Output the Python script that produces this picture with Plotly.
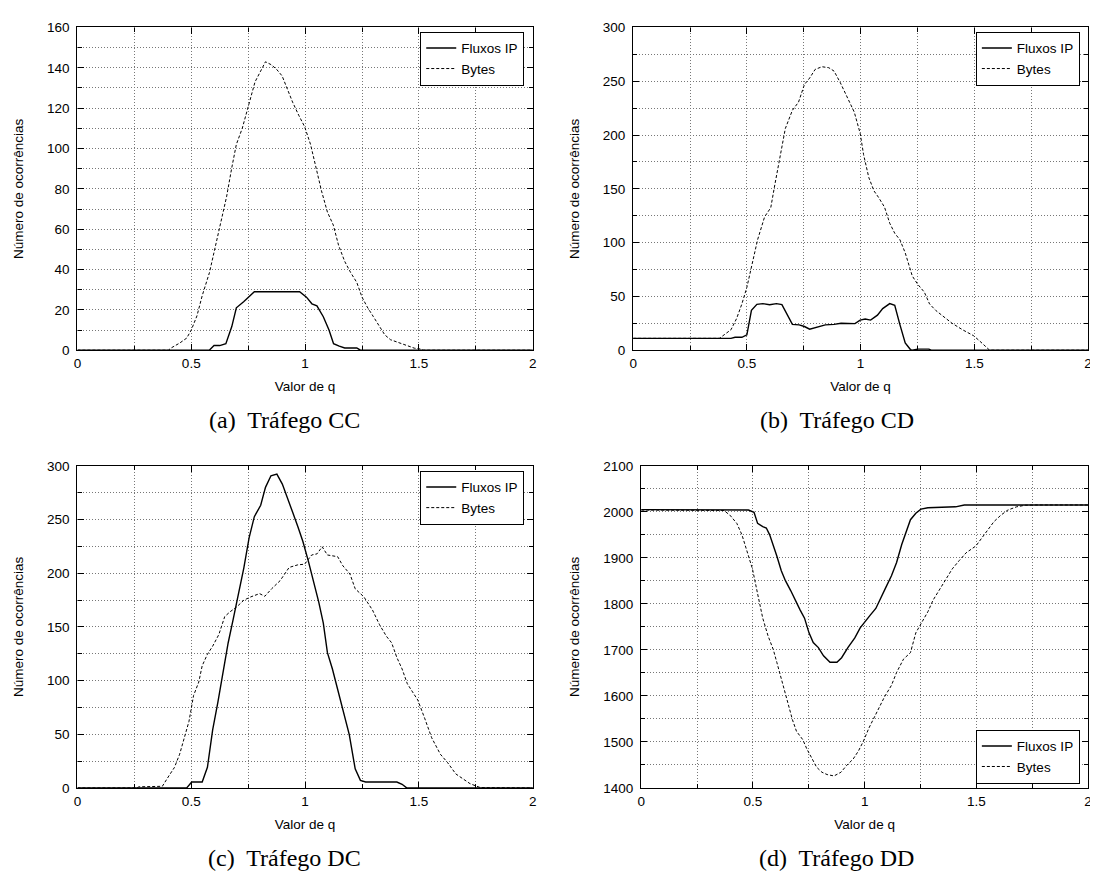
import plotly.graph_objects as go

# ---------------- data ----------------
# (a) Tráfego CC
a_bytes_x = [0, 0.40, 0.41, 0.45, 0.48, 0.50, 0.525, 0.548, 0.58, 0.605, 0.632, 0.655, 0.678, 0.698, 0.724, 0.754, 0.78, 0.803, 0.826, 0.85, 0.873, 0.899, 0.922, 0.945, 0.972, 0.998, 1.024, 1.047, 1.072, 1.098, 1.124, 1.147, 1.174, 1.2, 1.227, 1.25, 1.273, 1.3, 1.327, 1.35, 1.375, 1.403, 1.43, 1.453, 1.48, 1.505, 1.52, 2.0]
a_bytes_y = [0, 0, 1, 3.6, 6, 10, 17, 27, 38.5, 50.7, 64.5, 76, 90.5, 102, 110, 123, 133, 138, 143, 141.6, 139.5, 136, 129.5, 123, 116.5, 110.8, 102, 90.5, 79, 68.5, 62, 52, 44, 38.5, 33.6, 26.3, 21.4, 16.6, 11.7, 7.6, 5.2, 4, 3, 2, 1, 0.6, 0, 0]
a_flux_x = [0, 0.579, 0.60, 0.625, 0.652, 0.678, 0.698, 0.73, 0.777, 0.976, 1.006, 1.03, 1.052, 1.08, 1.105, 1.125, 1.15, 1.174, 1.227, 1.243, 2.0]
a_flux_y = [0, 0, 2.3, 2.3, 3.2, 11.7, 21, 24, 29, 29, 26.3, 23, 22, 16.6, 10, 3.2, 2, 1.1, 1.1, 0, 0]

# (b) Tráfego CD
b_bytes_x = [0, 0.379, 0.43, 0.455, 0.478, 0.50, 0.524, 0.547, 0.578, 0.605, 0.623, 0.646, 0.669, 0.70, 0.727, 0.753, 0.776, 0.80, 0.83, 0.86, 0.883, 0.91, 0.944, 0.972, 0.998, 1.013, 1.036, 1.059, 1.079, 1.105, 1.128, 1.15, 1.173, 1.196, 1.227, 1.25, 1.28, 1.303, 1.33, 1.357, 1.402, 1.448, 1.497, 1.525, 1.548, 1.567, 2.0]
b_bytes_y = [11, 11, 19, 29.5, 43, 58.5, 81, 102.6, 124, 132.5, 154, 178.8, 206, 223, 230.6, 247, 253, 261, 263.5, 262.6, 259.5, 249, 233.6, 221.4, 201.6, 181.8, 160.5, 148, 142, 133, 118, 108.7, 102.6, 90.5, 69, 61.5, 54, 43, 37, 32.6, 25, 19, 13.4, 8.2, 3.7, 0, 0]
b_flux_x = [0, 0.43, 0.448, 0.478, 0.50, 0.52, 0.544, 0.57, 0.60, 0.63, 0.654, 0.677, 0.70, 0.73, 0.753, 0.776, 0.807, 0.845, 0.883, 0.914, 0.975, 0.998, 1.02, 1.044, 1.074, 1.097, 1.128, 1.15, 1.173, 1.196, 1.219, 1.227, 1.25, 1.30, 1.31, 2.0]
b_flux_y = [11, 11, 12, 12, 14.3, 37, 42.6, 43.3, 42.3, 43.3, 42.3, 32.6, 24, 23.5, 22, 19.5, 21, 23.5, 24, 25, 24.7, 28, 29, 28, 32.6, 38.7, 43.3, 41.7, 23.5, 6.7, 0.6, 0, 1, 1, 0, 0]

# (c) Tráfego DC
c_bytes_x = [0, 0.26, 0.27, 0.36, 0.373, 0.403, 0.426, 0.449, 0.472, 0.49, 0.51, 0.533, 0.548, 0.571, 0.594, 0.621, 0.647, 0.67, 0.70, 0.731, 0.762, 0.80, 0.823, 0.853, 0.89, 0.93, 0.968, 0.998, 1.029, 1.052, 1.075, 1.098, 1.143, 1.166, 1.197, 1.22, 1.258, 1.296, 1.327, 1.357, 1.38, 1.403, 1.426, 1.449, 1.472, 1.495, 1.525, 1.556, 1.594, 1.625, 1.662, 1.693, 1.724, 1.754, 1.77, 2.0]
c_bytes_y = [0, 0, 1, 1, 1.5, 11.6, 19, 31.4, 49.7, 62, 86, 98.6, 113.8, 124.5, 132, 142.8, 159.6, 164, 168.7, 174.9, 178, 181, 178.5, 185.5, 193, 205.4, 207.8, 208.4, 217, 218, 224.6, 217, 215.4, 206.9, 199.3, 185.5, 178, 165.7, 152, 141.3, 135.2, 121.5, 110.8, 97, 89.4, 81.8, 65, 46.7, 31.4, 23.8, 13, 8.5, 4, 1.5, 0.3, 0]
c_flux_x = [0, 0.48, 0.502, 0.548, 0.571, 0.594, 0.617, 0.64, 0.662, 0.685, 0.708, 0.731, 0.754, 0.777, 0.805, 0.826, 0.85, 0.876, 0.90, 0.922, 0.945, 0.968, 0.99, 1.014, 1.037, 1.06, 1.08, 1.098, 1.12, 1.143, 1.17, 1.194, 1.22, 1.243, 1.266, 1.403, 1.426, 1.446, 2.0]
c_flux_y = [0, 0, 5.5, 5.5, 19.2, 54, 80, 109, 135, 158, 181, 205, 233, 252.7, 263.3, 280, 290.8, 292.3, 283, 271, 257, 243.5, 229.8, 211.5, 193, 173, 153.5, 126, 110.8, 91, 68, 49.7, 17.7, 7, 5.5, 5.5, 3.4, 0, 0]

# (d) Tráfego DD
d_bytes_x = [0, 0.37, 0.397, 0.428, 0.451, 0.474, 0.498, 0.521, 0.544, 0.568, 0.591, 0.607, 0.63, 0.653, 0.677, 0.695, 0.723, 0.742, 0.762, 0.785, 0.809, 0.832, 0.863, 0.894, 0.918, 0.949, 0.972, 0.995, 1.019, 1.042, 1.065, 1.089, 1.12, 1.143, 1.174, 1.205, 1.229, 1.26, 1.283, 1.306, 1.337, 1.36, 1.392, 1.423, 1.454, 1.498, 1.524, 1.548, 1.579, 1.61, 1.641, 1.68, 1.719, 1.765, 2.0]
d_bytes_y = [2004, 2003, 1993, 1975, 1950, 1915, 1876, 1822, 1769, 1730, 1701, 1673, 1634, 1591, 1548, 1523, 1505, 1484, 1466, 1445, 1434, 1429, 1426, 1434, 1448, 1463, 1480, 1502, 1530, 1552, 1573, 1598, 1623, 1651, 1680, 1694, 1737, 1762, 1783, 1808, 1833, 1851, 1876, 1894, 1911, 1926, 1943, 1961, 1979, 1993, 2004, 2011, 2014.5, 2015, 2015]
d_flux_x = [0, 0.48, 0.505, 0.521, 0.544, 0.56, 0.575, 0.591, 0.607, 0.627, 0.645, 0.669, 0.692, 0.711, 0.731, 0.751, 0.77, 0.793, 0.816, 0.845, 0.876, 0.897, 0.925, 0.956, 0.98, 0.995, 1.026, 1.05, 1.073, 1.096, 1.12, 1.143, 1.166, 1.182, 1.205, 1.229, 1.252, 1.283, 1.407, 1.446, 2.0]
d_flux_y = [2005, 2004, 1999, 1975, 1968, 1965, 1950, 1929, 1904, 1872, 1851, 1829, 1805, 1787, 1769, 1737, 1716, 1705, 1687, 1673, 1673, 1683, 1705, 1726, 1748, 1758, 1776, 1790, 1815, 1837, 1861, 1890, 1929, 1950, 1983, 1997, 2006, 2009, 2011, 2015, 2015]

series_names = ["Fluxos IP", "Bytes"]
captions = ["(a)\u00a0 Tráfego CC", "(b)\u00a0 Tráfego CD", "(c)\u00a0 Tráfego DC", "(d)\u00a0 Tráfego DD"]
x_ticks = [0, 0.5, 1, 1.5, 2]
y_ranges = [[0, 160], [0, 300], [0, 300], [1400, 2100]]
y_dticks = [20, 50, 50, 100]
x_title = "Valor de q"
y_title = "Número de ocorrências"

panels = [
    (a_flux_x, a_flux_y, a_bytes_x, a_bytes_y),
    (b_flux_x, b_flux_y, b_bytes_x, b_bytes_y),
    (c_flux_x, c_flux_y, c_bytes_x, c_bytes_y),
    (d_flux_x, d_flux_y, d_bytes_x, d_bytes_y),
]

# ---------------- layout geometry ----------------
# The page body adds an 8px margin, so page pixel p maps to figure pixel p - 8.
W, H = 1098, 880
OFF = 8


def px(p):
    return (p - OFF) / W


def py(p):
    return 1 - (p - OFF) / H


x_domains = [[px(73.9), px(532.6)], [px(633.7), px(1092)], [px(73.9), px(532.6)], [px(641.8), px(1092)]]
y_domains = [[py(349), py(20.7)], [py(349), py(20.7)], [py(794.3), py(466.7)], [py(794.3), py(466.7)]]
legend_pos = [
    dict(x=px(524), y=py(25), yanchor="top"),
    dict(x=px(1083.7), y=py(25), yanchor="top"),
    dict(x=px(524), y=py(471.7), yanchor="top"),
    dict(x=px(1083.7), y=py(790), yanchor="bottom"),
]
caption_pos = [(px(282), py(420)), (px(839), py(420)), (px(282), py(866)), (px(839), py(866))]

SANS = "Liberation Sans, Arial, Helvetica, sans-serif"
SERIF = "Liberation Serif, Times New Roman, serif"
FS = 13.5

fig = go.Figure()
layout = dict(
    width=W, height=H,
    margin=dict(l=0, r=0, t=0, b=0),
    paper_bgcolor="white", plot_bgcolor="white",
    font=dict(family=SANS, size=FS, color="black"),
    showlegend=True,
    annotations=[],
)

for i, (fx, fy, bx, by) in enumerate(panels):
    k = "" if i == 0 else str(i + 1)
    leg = "legend" if i == 0 else "legend" + str(i + 1)
    fig.add_trace(go.Scatter(x=fx, y=fy, mode="lines", name=series_names[0],
                             line=dict(color="black", width=1.4),
                             xaxis="x" + k, yaxis="y" + k, legend=leg))
    fig.add_trace(go.Scatter(x=bx, y=by, mode="lines", name=series_names[1],
                             line=dict(color="black", width=1.0, dash="3px,2px"),
                             xaxis="x" + k, yaxis="y" + k, legend=leg))
    common = dict(
        showline=True, linecolor="black", linewidth=1.2, mirror="ticks",
        ticks="inside", ticklen=6, tickcolor="black", tickwidth=1,
        showgrid=True, gridcolor="#777777", gridwidth=1, griddash="1px,2px",
        zeroline=False, tickfont=dict(family=SANS, size=FS, color="black"),
        ticklabeloverflow="allow",
    )
    layout["xaxis" + k] = dict(
        common, domain=x_domains[i], range=[0, 2], anchor="y" + k,
        ticklabelstandoff=1,
        tickmode="array", tickvals=x_ticks, ticktext=[str(v) for v in x_ticks],
        minor=dict(dtick=0.25, tick0=0, ticks="inside", ticklen=4, tickcolor="black",
                   showgrid=True, gridcolor="#777777", gridwidth=1, griddash="1px,2px"),
        title=dict(text=x_title, standoff=11, font=dict(family=SANS, size=FS)),
    )
    layout["yaxis" + k] = dict(
        common, domain=y_domains[i], range=y_ranges[i], anchor="x" + k,
        ticklabelstandoff=4,
        dtick=y_dticks[i], tick0=y_ranges[i][0],
        minor=dict(dtick=y_dticks[i] / 2, tick0=y_ranges[i][0], ticks="inside", ticklen=4,
                   tickcolor="black", showgrid=True, gridcolor="#777777", gridwidth=1,
                   griddash="1px,2px"),
        title=dict(text=y_title, standoff=20, font=dict(family=SANS, size=FS)),
    )
    lp = legend_pos[i]
    layout[leg] = dict(
        x=lp["x"], xanchor="right", y=lp["y"], yanchor=lp["yanchor"],
        bgcolor="white", bordercolor="black", borderwidth=1,
        font=dict(family=SANS, size=FS, color="black"),
        tracegroupgap=0, itemwidth=30,
    )
    cx, cy = caption_pos[i]
    layout["annotations"].append(dict(
        text=captions[i], x=cx, y=cy, xref="paper", yref="paper",
        xanchor="center", yanchor="middle", showarrow=False,
        font=dict(family=SERIF, size=24, color="black"),
    ))

fig.update_layout(**layout)
fig.write_html("out.html")
